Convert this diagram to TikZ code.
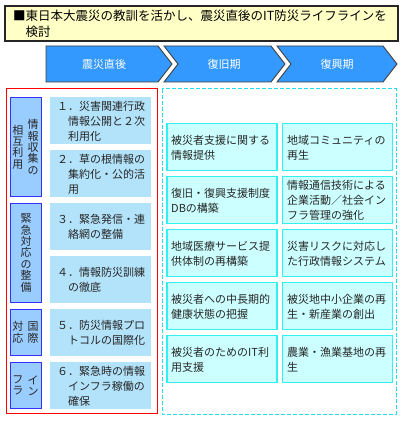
\documentclass[tikz,border=0pt]{standalone}
\usepackage{fontspec}
\setmainfont{Noto Sans CJK JP}
\definecolor{titlefill}{HTML}{FFFFC6}
\definecolor{chevfill}{HTML}{3399FF}
\definecolor{catfill}{HTML}{99CCFF}
\definecolor{catline}{HTML}{3333FF}
\definecolor{itemfill}{HTML}{B3E3FA}
\definecolor{cellfill}{HTML}{CCFFFF}
\definecolor{cellline}{HTML}{33F0F0}
\definecolor{dashline}{HTML}{22DDEE}
\tikzset{
  body/.style={font=\fontsize{11}{15}\selectfont, align=left, inner sep=0, text=black!85},
  vert/.style={font=\fontsize{11}{11.4}\selectfont, align=center, inner sep=0, text=black!85},
  catbox/.style={draw=catline, fill=catfill, line width=1.2pt, minimum width=31pt, inner sep=0},
  itembox/.style={fill=itemfill, minimum width=101pt, minimum height=47pt, inner sep=0},
  cellbox/.style={draw=cellline, fill=cellfill, line width=1.2pt, minimum width=110pt, minimum height=47pt, inner sep=0},
  chev/.style={fill=chevfill, draw=black!75, line width=0.9pt},
  chevtext/.style={font=\fontsize{11}{13}\selectfont, text=white, inner sep=0},
  titlebox/.style={draw=black!85, fill=titlefill, line width=1.2pt, minimum width=393pt, minimum height=35pt, inner sep=0},
  redframe/.style={draw=red, line width=1pt},
  dashframe/.style={draw=dashline, line width=1pt, dash pattern=on 4pt off 2pt},
}
\begin{document}
\begin{tikzpicture}[x=1pt,y=-1pt]
\useasboundingbox (0,0) rectangle (405,422);
\fill[white] (0,0) rectangle (405,422);

% title
\node[titlebox] (title) at (201.5,23.5) {};
\node[body, font=\fontsize{12.5}{16}\selectfont, anchor=west, text=black] (titletext) at (13,24)
  {■東日本大震災の教訓を活かし、震災直後のIT防災ライフラインを\\\hspace*{1em}検討};

% chevrons
\draw[chev] (46,46) -- (158,46) -- (172,64) -- (158,82) -- (46,82) -- cycle;
\draw[chev] (164,46) -- (271,46) -- (285,64) -- (271,82) -- (164,82) -- (178,64) -- cycle;
\draw[chev] (277,46) -- (383,46) -- (397,64) -- (383,82) -- (277,82) -- (291,64) -- cycle;
\node[chevtext] (p1) at (104,64) {震災直後};
\node[chevtext] (p2) at (224,64) {復旧期};
\node[chevtext] (p3) at (337,64) {復興期};

% frames
\draw[redframe] (6,89) rectangle (157,413);
\draw[dashframe] (162,89) rectangle (396,414);

% category boxes
\node[catbox, minimum height=99pt] (c1) at (26,147) {};
\node[catbox, minimum height=99pt] (c2) at (26,253) {};
\node[catbox, minimum height=46pt] (c3) at (26,332.5) {};
\node[catbox, minimum height=46pt] (c4) at (26,385.5) {};
\node[vert] (c1r) at (33,147) {情\\報\\収\\集\\の};
\node[vert] (c1l) at (18,147) {相\\互\\利\\用};
\node[vert] (c2t) at (26,253) {緊\\急\\対\\応\\の\\整\\備};
\node[vert] (c3r) at (33,332.5) {国\\際};
\node[vert] (c3l) at (18,332.5) {対\\応};
\node[vert] (c4r) at (33,385.5) {イ\\ン};
\node[vert] (c4l) at (18,385.5) {フ\\ラ};

% item boxes
\node[itembox] (i1) at (100.5,120.5) {};
\node[itembox] (i2) at (100.5,173.5) {};
\node[itembox] (i3) at (100.5,226.5) {};
\node[itembox] (i4) at (100.5,279.5) {};
\node[itembox] (i5) at (100.5,332.5) {};
\node[itembox] (i6) at (100.5,385.5) {};
\node[body, anchor=west] (t1) at (57,121) {１．災害関連行政\\\hspace*{1em}情報公開と２次\\\hspace*{1em}利用化};
\node[body, anchor=west] (t2) at (57,174) {２．草の根情報の\\\hspace*{1em}集約化・公的活\\\hspace*{1em}用};
\node[body, anchor=west] (t3) at (57,227) {３．緊急発信・連\\\hspace*{1em}絡網の整備};
\node[body, anchor=west] (t4) at (57,280) {４．情報防災訓練\\\hspace*{1em}の徹底};
\node[body, anchor=west] (t5) at (57,333) {５．防災情報プロ\\\hspace*{1em}トコルの国際化};
\node[body, anchor=west] (t6) at (57,386) {６．緊急時の情報\\\hspace*{1em}インフラ稼働の\\\hspace*{1em}確保};

% grid cells
\node[cellbox] (a1) at (222,147) {};
\node[cellbox] (b1) at (337.5,147) {};
\node[cellbox] (a2) at (222,200) {};
\node[cellbox] (b2) at (337.5,200) {};
\node[cellbox] (a3) at (222,253) {};
\node[cellbox] (b3) at (337.5,253) {};
\node[cellbox] (a4) at (222,306) {};
\node[cellbox] (b4) at (337.5,306) {};
\node[cellbox] (a5) at (222,359) {};
\node[cellbox] (b5) at (337.5,359) {};

\node[body, anchor=west] (ta1) at (171,147.5) {被災者支援に関する\\情報提供};
\node[body, anchor=west] (tb1) at (287,147.5) {地域コミュニティの\\再生};
\node[body, anchor=west] (ta2) at (171,200.5) {復旧・復興支援制度\\DBの構築};
\node[body, anchor=west] (tb2) at (287,200.5) {情報通信技術による\\企業活動／社会イン\\フラ管理の強化};
\node[body, anchor=west] (ta3) at (171,253.5) {地域医療サービス提\\供体制の再構築};
\node[body, anchor=west] (tb3) at (287,253.5) {災害リスクに対応し\\た行政情報システム};
\node[body, anchor=west] (ta4) at (171,306.5) {被災者への中長期的\\健康状態の把握};
\node[body, anchor=west] (tb4) at (287,306.5) {被災地中小企業の再\\生・新産業の創出};
\node[body, anchor=west] (ta5) at (171,359.5) {被災者のためのIT利\\用支援};
\node[body, anchor=west] (tb5) at (287,359.5) {農業・漁業基地の再\\生};
\end{tikzpicture}
\end{document}
